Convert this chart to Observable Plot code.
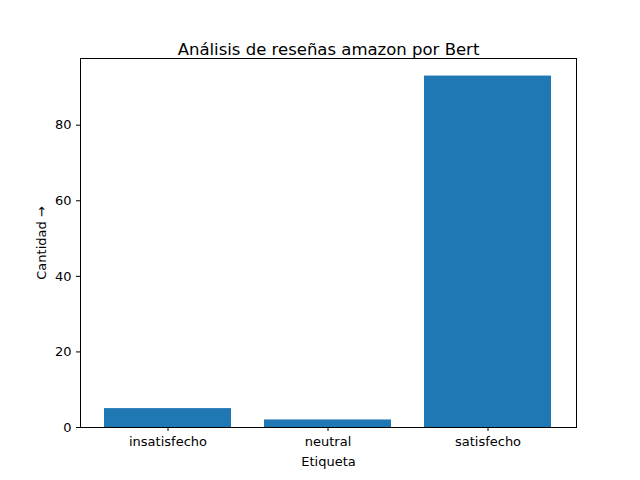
<!DOCTYPE html>
<html>
<head>
<meta charset="utf-8">
<script src="https://cdn.jsdelivr.net/npm/d3@7"></script>
<script src="https://cdn.jsdelivr.net/npm/@observablehq/plot@0.6"></script>
<style>body{margin:0;background:#fff}</style>
</head>
<body>
<div id="chart"></div>
<script>
const etiquetas = ["insatisfecho", "neutral", "satisfecho"]
const cantidades = [5, 2, 93]
const yTicks = [0, 20, 40, 60, 80]
const titulo = "Análisis de reseñas amazon por Bert"

const data = etiquetas.map((e, i) => ({etiqueta: e, cantidad: cantidades[i]}))

let chart = Plot.plot({
  width: 640,
  height: 480,
  marginTop: 58,
  marginBottom: 53,
  marginLeft: 80,
  marginRight: 64,
  style: {fontFamily: "DejaVu Sans", fontSize: "13px", color: "#000", background: "#fff"},
  x: {
    domain: etiquetas,
    paddingInner: 0.205,
    paddingOuter: 0.143,
    label: "Etiqueta",
    labelAnchor: "center",
    labelOffset: 38,
    tickSize: 4
  },
  y: {
    domain: [0, 97.65],
    ticks: yTicks,
    label: "Cantidad",
    labelAnchor: "center",
    labelOffset: 44,
    tickSize: 4
  },
  marks: [
    Plot.barY(data, {x: "etiqueta", y: "cantidad", fill: "#1f77b4"}),
    Plot.frame({stroke: "#000"}),
    Plot.text([titulo], {frameAnchor: "top", dy: -15, fontSize: 16.5, fill: "#000"})
  ]
})
d3.select('#chart').append(() => chart)
</script>
</body>
</html>
